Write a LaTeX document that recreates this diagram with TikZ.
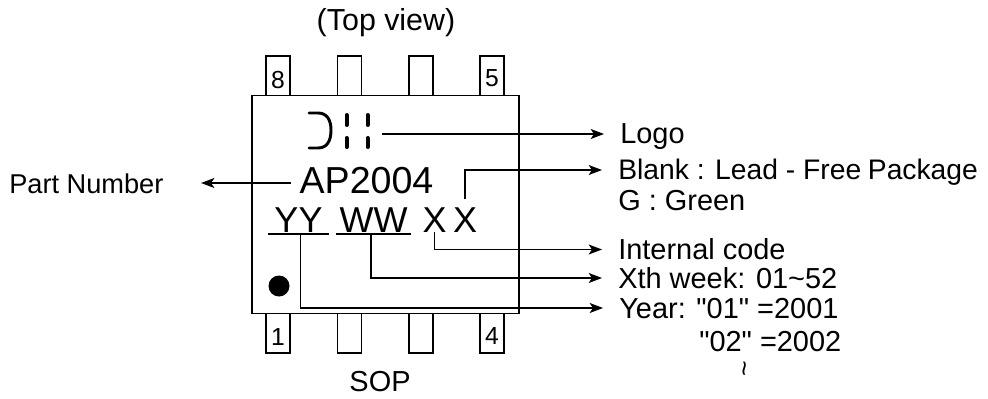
\documentclass[tikz,border=0pt]{standalone}
\usepackage{fontspec}
\setmainfont{Liberation Sans}[Ligatures=TeXOff]
\usetikzlibrary{arrows.meta}
\begin{document}
\begin{tikzpicture}[x=0.75pt,y=-0.75pt,
    pinbox/.style={draw,line width=1pt,minimum width=18pt,minimum height=29.5pt,inner sep=0pt},
    pinnum/.style={inner sep=0pt,font=\fontsize{18.5}{20}\selectfont},
    sidetext/.style={inner sep=0pt,anchor=west,text height=15pt,text depth=0pt,font=\fontsize{21.7}{25}\selectfont},
    marktext/.style={inner sep=0pt,text height=19.5pt,text depth=0pt,font=\fontsize{27}{30}\selectfont},
    leader/.style={line width=1pt},
    tipline/.style={leader,-{Stealth[length=10pt,width=7.5pt,inset=2.5pt]},shorten >=12pt}]
    \useasboundingbox (0,0) rectangle (988,399);
    % package outline
    \node [draw,line width=1pt,minimum width=200.25pt,minimum height=163pt,inner sep=0pt] (body) at (385.5,204.5) {};
    \node [pinbox,anchor=south] (pinA) at (278,96) {};
    \node [pinbox,anchor=south] (pinB) at (349.5,96) {};
    \node [pinbox,anchor=south] (pinC) at (421,96) {};
    \node [pinbox,anchor=south] (pinD) at (492,96) {};
    \node [pinbox,anchor=north] (pinE) at (278,313) {};
    \node [pinbox,anchor=north] (pinF) at (349.5,313) {};
    \node [pinbox,anchor=north] (pinG) at (421,313) {};
    \node [pinbox,anchor=north] (pinH) at (492,313) {};
    \node [pinnum] (numA) at (278,80) {8};
    \node [pinnum] (numD) at (492,78) {5};
    \node [pinnum] (numE) at (278,337) {1};
    \node [pinnum] (numH) at (492,336) {4};
    % logo
    \draw [line width=2.2pt,line cap=round] (309,113) -- (318,113) .. controls (327,113) and (331,120) .. (331,130) .. controls (331,141) and (327,148) .. (318,148) -- (309,148);
    \draw [line width=3pt,line cap=round] (346.5,115) -- (346.5,125);
    \draw [line width=3pt,line cap=round] (346.5,138) -- (346.5,147);
    \draw [line width=3pt,line cap=round] (367.5,115) -- (367.5,125);
    \draw [line width=3pt,line cap=round] (367.5,138) -- (367.5,147);
    \coordinate (logoend) at (382,134);
    \node [fill=black,circle,minimum size=15.75pt,inner sep=0pt] (dot) at (279,286) {};
    % marking
    \node [marktext,font=\fontsize{28.2}{30}\selectfont,text height=15pt] (part) at (366.5,183) {AP2004};
    \node [marktext,inner xsep=4.5pt,inner ysep=1pt] (year) at (298.5,219) {YY};
    \node [marktext,inner xsep=2.5pt,inner ysep=1pt] (week) at (373.5,219) {WW};
    \node [marktext] (markA) at (434.5,219) {X};
    \node [marktext] (markB) at (465,219) {X};
    \draw [line width=1.6pt] (year.south west) -- (year.south east);
    \draw [line width=1.6pt] (week.south west) -- (week.south east);
    % texts outside
    \node [inner sep=0pt,font=\fontsize{22.8}{25}\selectfont] (top) at (386,23) {(Top view)};
    \node [inner sep=0pt,font=\fontsize{21.7}{25}\selectfont] (sop) at (380,382) {SOP};
    \node [sidetext,font=\fontsize{20.4}{25}\selectfont] (partlabel) at (9,183) {Part Number};
    \node [sidetext] (logolabel) at (620,134) {Logo};
    \node [sidetext,font=\fontsize{21.2}{25}\selectfont] (blank) at (618,170) {Blank : Lead - Free\hspace{5pt}Package};
    \node [sidetext] (green) at (618,200) {G : Green};
    \node [sidetext] (internal) at (618,249.5) {Internal code};
    \node [sidetext] (xth) at (618,278) {Xth week: 01\textasciitilde 52};
    \node [sidetext] (yearA) at (619,308) {Year: "01" =2001};
    \node [sidetext] (yearB) at (699,341) {"02" =2002};
    \node [inner sep=0pt,rotate=90,font=\fontsize{20}{22}\selectfont] (more) at (748,369) {\textasciitilde};
    % connectors
    \draw [tipline] (logoend) -- (logolabel.west);
    \draw [tipline,shorten <=5pt] (markB.north) |- (blank.west);
    \draw [tipline] (markA.south) |- (internal.west);
    \draw [tipline] ([xshift=-2pt]week.south) |- (xth.west);
    \draw [tipline] ([xshift=1.5pt]year.south) |- (yearA.west);
    \draw [leader,-{Stealth[length=10pt,width=7.5pt,inset=2.5pt]},shorten <=6.5pt,shorten >=28pt] (part.west) -- (partlabel.east);
\end{tikzpicture}
\end{document}
